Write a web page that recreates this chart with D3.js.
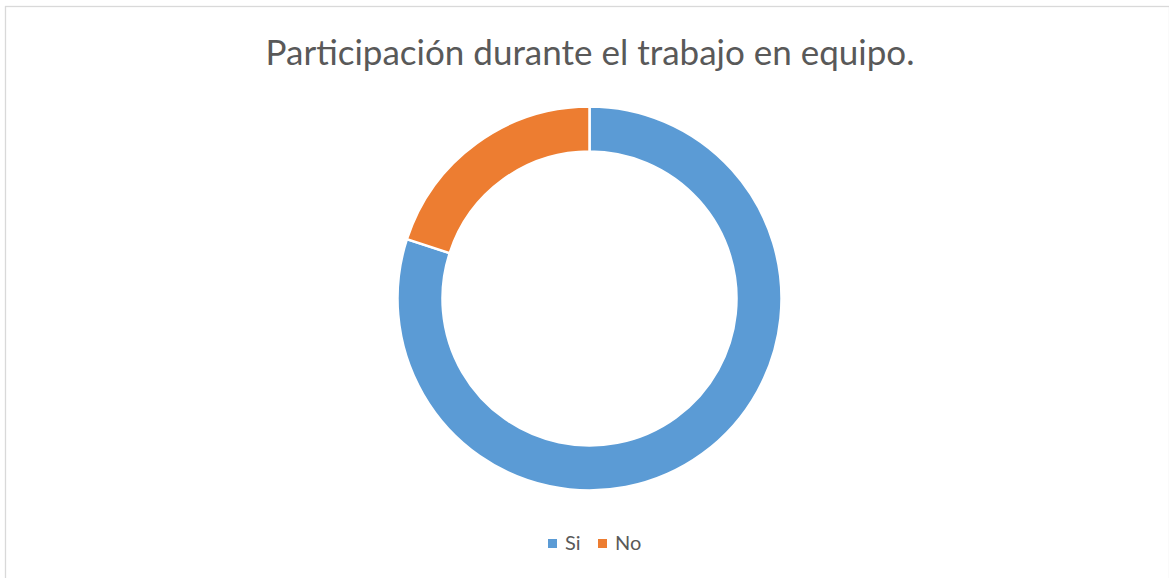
<!DOCTYPE html>
<html>
<head>
<meta charset="utf-8">
<style>
  body { margin: 0; background: #fff; }
</style>
</head>
<body>
<div id="chart"></div>
<script src="https://d3js.org/d3.v7.min.js"></script>
<script>
// data
var categories = ["Si", "No"];
var values = [80, 20];
var colors = ["#5b9bd5", "#ed7d31"];
var title = "Participación durante el trabajo en equipo.";

var width = 1169, height = 578;

var svg = d3.select("#chart").append("svg")
    .attr("width", width)
    .attr("height", height);

// chart frame
svg.append("rect")
    .attr("x", 5.5).attr("y", 6.5)
    .attr("width", width - 5).attr("height", height - 4)
    .attr("fill", "#fff")
    .attr("stroke", "#d9d9d9")
    .attr("stroke-width", 1.3);

svg.append("text")
    .attr("x", 590).attr("y", 65)
    .attr("text-anchor", "middle")
    .attr("font-family", "Lato, sans-serif")
    .attr("font-size", 35)
    .attr("fill", "#595959")
    .text(title);

var cx = 589.5, cy = 298.5, outerR = 192, innerR = 147;

var pie = d3.pie().sort(null).value(function(d) { return d; });
var arc = d3.arc().innerRadius(innerR).outerRadius(outerR);

var g = svg.append("g").attr("transform", "translate(" + cx + "," + cy + ")");
g.selectAll("path")
    .data(pie(values))
    .enter().append("path")
    .attr("d", arc)
    .attr("fill", function(d, i) { return colors[i]; })
    .attr("stroke", "#fff")
    .attr("stroke-width", 2.5);

// legend
var legend = svg.append("g").attr("transform", "translate(548,543)");
var legX = [0, 50];
categories.forEach(function(c, i) {
  var item = legend.append("g").attr("transform", "translate(" + legX[i] + ",0)");
  item.append("rect")
      .attr("x", 0).attr("y", -4)
      .attr("width", 9).attr("height", 9)
      .attr("fill", colors[i]);
  item.append("text")
      .attr("x", 17).attr("y", 7)
      .attr("font-family", "Lato, sans-serif")
      .attr("font-size", 20)
      .attr("fill", "#595959")
      .text(c);
});
</script>
</body>
</html>
